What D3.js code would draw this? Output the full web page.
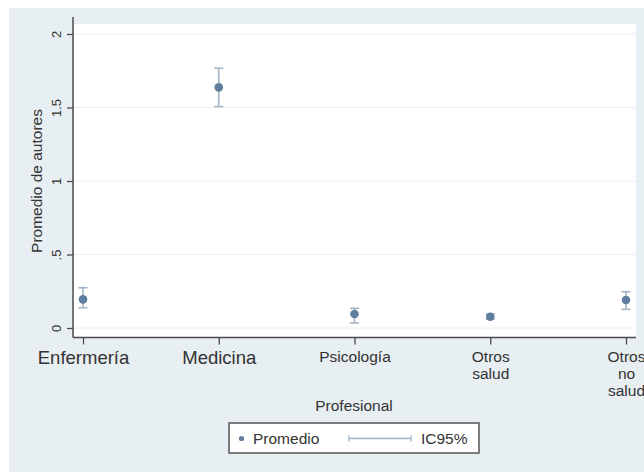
<!DOCTYPE html>
<html>
<head>
<meta charset="utf-8">
<script src="https://cdn.jsdelivr.net/npm/d3@7"></script>
<style>
  html, body { margin: 0; padding: 0; background: #ffffff; }
  svg { display: block; font-family: "Liberation Sans", Arial, sans-serif; }
</style>
</head>
<body>
<svg id="chart" width="644" height="472"></svg>
<script>
// Mean number of authors per professional group, with 95% CI
const categories = ["Enfermería", "Medicina", "Psicología", "Otros salud", "Otros no salud"];
const tickLines = [["Enfermería"], ["Medicina"], ["Psicología"], ["Otros", "salud"], ["Otros", "no", "salud"]];
const tickSizes = [18.5, 18.5, 15.5, 15.5, 15.5];
const means = [0.195, 1.637, 0.095, 0.077, 0.19];
const ciLow = [0.138, 1.506, 0.034, 0.06, 0.127];
const ciHigh = [0.274, 1.767, 0.134, 0.095, 0.247];
const yTicks = [0, 0.5, 1, 1.5, 2];
const yTickLabels = ["0", ".5", "1", "1.5", "2"];

const svg = d3.select("#chart");
const W = 644, H = 472;
const plot = { left: 73, right: 636, top: 24, bottom: 337.5 };

// outer graph region
svg.append("rect").attr("x", 9).attr("y", 8).attr("width", W - 9).attr("height", H - 8)
  .attr("fill", "#e8eff2");
svg.append("rect").attr("x", plot.left).attr("y", plot.top)
  .attr("width", plot.right - plot.left).attr("height", plot.bottom - plot.top)
  .attr("fill", "#ffffff");

const x = d3.scalePoint().domain(categories).range([83, 626]);
const y = d3.scaleLinear().domain([0, 2]).range([328, 34]);

// gridlines
svg.append("g").selectAll("line").data(yTicks).join("line")
  .attr("x1", plot.left).attr("x2", plot.right)
  .attr("y1", d => y(d)).attr("y2", d => y(d))
  .attr("stroke", "#eaf1f4").attr("stroke-width", 1.2);

// y axis
const yAxis = svg.append("g").attr("transform", `translate(${plot.left},0)`)
  .call(d3.axisLeft(y).tickValues(yTicks).tickSize(6).tickPadding(0)
    .tickFormat((d, i) => yTickLabels[i]));
yAxis.select(".domain").attr("d", `M0,${plot.top - 7}V${plot.bottom}`)
  .attr("stroke", "#4a4a4a").attr("stroke-width", 1.5);
yAxis.selectAll(".tick line").attr("stroke", "#4a4a4a").attr("stroke-width", 1.3);
yAxis.selectAll(".tick text")
  .attr("x", 0).attr("dy", null)
  .attr("transform", "translate(-15,0) rotate(-90)")
  .attr("text-anchor", "middle").attr("dominant-baseline", "middle")
  .attr("fill", "#333").style("font-size", "13px").style("font-family", "'Liberation Sans', Arial, sans-serif");

// x axis
const xAxis = svg.append("g").attr("transform", `translate(0,${plot.bottom})`)
  .call(d3.axisBottom(x).tickSize(7).tickFormat(""));
xAxis.select(".domain").attr("d", `M${plot.left},0H${plot.right}`)
  .attr("stroke", "#4a4a4a").attr("stroke-width", 1.5);
xAxis.selectAll(".tick line").attr("stroke", "#4a4a4a").attr("stroke-width", 1.3);
xAxis.selectAll(".tick").each(function (d, i) {
  const t = d3.select(this).append("text")
    .attr("text-anchor", "middle").attr("fill", "#333")
    .style("font-size", tickSizes[i] + "px")
    .style("font-family", "'Liberation Sans', Arial, sans-serif");
  tickLines[i].forEach((ln, j) => {
    t.append("tspan").attr("x", 0).attr("y", (i < 2 ? 26 : 24) + j * 17).text(ln);
  });
});

// axis titles
svg.append("text").attr("transform", `translate(42,${(y(0) + y(2)) / 2}) rotate(-90)`)
  .attr("text-anchor", "middle").attr("fill", "#333").style("font-size", "15.5px")
  .text("Promedio de autores");
svg.append("text").attr("x", 354).attr("y", 411)
  .attr("text-anchor", "middle").attr("fill", "#333").style("font-size", "15.5px")
  .text("Profesional");

// confidence intervals
const ciColor = "#a3b4c6";
const cap = 4.5;
const ci = svg.append("g").attr("stroke", ciColor).attr("stroke-width", 1.6);
categories.forEach((c, i) => {
  ci.append("line").attr("x1", x(c)).attr("x2", x(c)).attr("y1", y(ciLow[i])).attr("y2", y(ciHigh[i]));
  ci.append("line").attr("x1", x(c) - cap).attr("x2", x(c) + cap).attr("y1", y(ciLow[i])).attr("y2", y(ciLow[i]));
  ci.append("line").attr("x1", x(c) - cap).attr("x2", x(c) + cap).attr("y1", y(ciHigh[i])).attr("y2", y(ciHigh[i]));
});

// means
svg.append("g").selectAll("circle").data(means).join("circle")
  .attr("cx", (d, i) => x(categories[i])).attr("cy", d => y(d))
  .attr("r", 4.3).attr("fill", "#5f7d9c");

// legend
const lg = svg.append("g");
lg.append("rect").attr("x", 229).attr("y", 423).attr("width", 250).attr("height", 30)
  .attr("fill", "#ffffff").attr("stroke", "#555").attr("stroke-width", 1.5);
lg.append("circle").attr("cx", 241.5).attr("cy", 438.5).attr("r", 2.6).attr("fill", "#5f7d9c");
lg.append("text").attr("x", 253).attr("y", 444).attr("fill", "#333").style("font-size", "15.5px").text("Promedio");
lg.append("line").attr("x1", 349).attr("x2", 411).attr("y1", 438.5).attr("y2", 438.5)
  .attr("stroke", ciColor).attr("stroke-width", 1.4);
[349, 411].forEach(px => lg.append("line").attr("x1", px).attr("x2", px)
  .attr("y1", 435.5).attr("y2", 441.5).attr("stroke", ciColor).attr("stroke-width", 1.4));
lg.append("text").attr("x", 421).attr("y", 444).attr("fill", "#333").style("font-size", "15.5px").text("IC95%");
</script>
</body>
</html>
